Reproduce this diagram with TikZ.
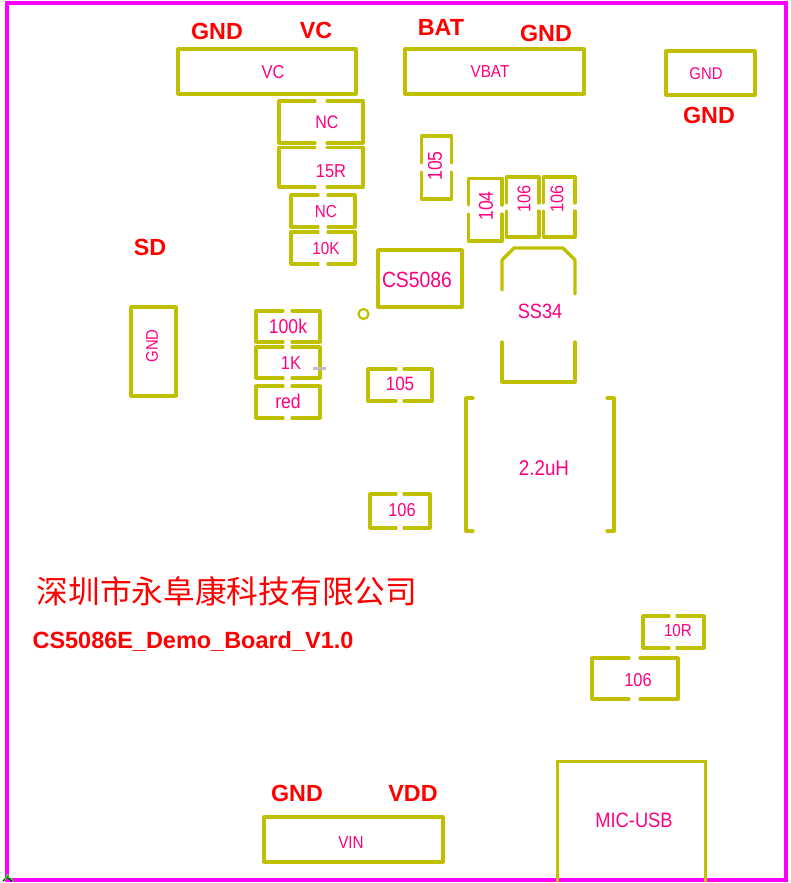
\documentclass[tikz,border=0pt]{standalone}
\usepackage{fontspec}
\setmainfont{Liberation Sans}
\newfontfamily\pcbfont[FakeStretch=0.88]{Liberation Sans}
\newfontfamily\cjkfont{Noto Sans CJK SC}
\definecolor{silk}{HTML}{C0C000}
\definecolor{pcbpink}{HTML}{FF0080}
\definecolor{board}{HTML}{FF00FF}
\newcommand{\pf}[1]{\pcbfont\fontsize{#1}{#1}\selectfont}
\tikzset{
  silkline/.style={draw=silk,line width=2.4pt,line cap=round,line join=round},
  thinsilk/.style={draw=silk,line width=1.8pt,line join=miter},
  edge/.style={draw=board,line width=3pt,line join=miter},
  pt/.style={text=pcbpink,inner sep=0pt,font=\pf{#1}},
  redlab/.style={text=red,inner sep=0pt,font=\bfseries\fontsize{17.5}{17.5}\selectfont},
}
% horizontal-gap pad pair: x1 y1 x2 y2 gapL gapR
\newcommand{\hpad}[6]{%
  \draw[silkline] (#5,#2) -- (#1,#2) -- (#1,#4) -- (#5,#4);
  \draw[silkline] (#6,#2) -- (#3,#2) -- (#3,#4) -- (#6,#4);}
% vertical-gap pad pair: x1 y1 x2 y2 gapT gapB
\newcommand{\vpad}[6]{%
  \draw[silkline] (#1,#5) -- (#1,#2) -- (#3,#2) -- (#3,#5);
  \draw[silkline] (#1,#6) -- (#1,#4) -- (#3,#4) -- (#3,#6);}
\begin{document}
\begin{tikzpicture}[x=0.75pt,y=-0.75pt]
\useasboundingbox (0,0) rectangle (791,883);
\fill[white] (0,0) rectangle (791,883);
% board outline
\draw[edge] (7,3) rectangle (786,880);
% origin marker
\draw[black,line width=0.9pt] (3,881) -- (7,877) -- (12,881);
\draw[green,line width=0.9pt] (5,880) -- (8,874) (8,877) -- (14,881);
% connectors
\draw[silkline] (178,49) rectangle (356,94);
\draw[silkline] (405,49) rectangle (584,94);
\draw[silkline] (666,51) rectangle (755,95);
\draw[silkline] (264,817) rectangle (443,862);
\draw[silkline] (131,307) rectangle (176,396);
% top resistors
\hpad{279}{101}{363}{143}{315}{327}
\hpad{279}{147.5}{363}{187}{315}{327}
\hpad{291}{195}{355}{227}{318}{328}
\hpad{291}{232}{355}{264}{318}{328}
% vertical caps
\vpad{421.5}{136}{451.5}{199}{163}{172}
\vpad{468.5}{178.5}{502}{241}{205}{214}
\vpad{506.5}{177}{539}{237}{203}{211}
\vpad{543.5}{177}{575}{237}{203}{211}
% CS5086
\draw[silkline] (378,250) rectangle (462,307);
\node[draw=silk,line width=1.6pt,circle,minimum size=7.5pt,inner sep=0pt] (pinone) at (363.5,314) {};
% SS34
\draw[silkline] (502,290) -- (502,260) -- (514,248) -- (563,248) -- (575,260) -- (575,294);
\draw[silkline] (502,342) -- (502,382) -- (575,382) -- (575,342);
% left resistors
\hpad{256}{311}{320}{342}{283}{292}
\hpad{256}{347}{320}{378}{283}{292}
\hpad{256}{386}{320}{418}{283}{292}
\draw[gray!50,line width=1.6pt] (313,368.5) -- (326,368.5);
\hpad{368}{369}{432}{401}{396}{404}
\hpad{370}{494}{430}{528}{396}{404}
% inductor
\draw[silkline] (473,398) -- (466,398) -- (466,531) -- (473,531);
\draw[silkline] (607,398) -- (614,398) -- (614,531) -- (607,531);
% lower right
\hpad{643}{616}{704}{648}{669}{677}
\hpad{592}{658}{678}{699}{629}{640}
% MIC-USB
\draw[thinsilk] (557.5,882) -- (557.5,761.5) -- (705.5,761.5) -- (705.5,882);
% component labels
\node[pt=14] (lvc) at (273,72) {VC};
\node[pt=13] (lvbat) at (490,72) {VBAT};
\node[pt=12.7] (lgnda) at (706,74) {GND};
\node[pt=13] (lvin) at (351,843) {VIN};
\node[pt=13.6] (lnca) at (327,122) {NC};
\node[pt=14] (lr) at (331,171) {15R};
\node[pt=13] (lncb) at (326,212) {NC};
\node[pt=13] (lk) at (326,249) {10K};
\node[pt=15,rotate=90] (lca) at (435,166) {105};
\node[pt=15,rotate=90] (lcb) at (486,206) {104};
\node[pt=13.8,rotate=90] (lcc) at (524,199) {106};
\node[pt=13.8,rotate=90] (lcd) at (557,199) {106};
\node[pt=16.5] (lic) at (417,280) {CS5086};
\node[pt=15.5] (lss) at (540,311) {SS34};
\node[pt=12.7,rotate=90] (lgndb) at (152,346) {GND};
\node[pt=15] (lhk) at (288,326) {100k};
\node[pt=14] (lok) at (291,363) {1K};
\node[pt=15] (lred) at (288,401) {red};
\node[pt=14.5] (lce) at (400,384) {105};
\node[pt=14] (lcf) at (402,510) {106};
\node[pt=16] (lind) at (544,468) {2.2uH};
\node[pt=13] (lten) at (678,631) {10R};
\node[pt=14] (lcg) at (638,680) {106};
\node[pt=15.6] (lusb) at (634,820) {MIC-USB};
% red annotations
\node[redlab] (ra) at (217,31) {GND};
\node[redlab] (rb) at (316,30) {VC};
\node[redlab] (rc) at (441,27) {BAT};
\node[redlab] (rd) at (546,33) {GND};
\node[redlab] (re) at (709,115) {GND};
\node[redlab] (rf) at (150,247) {SD};
\node[redlab] (rg) at (297,793) {GND};
\node[redlab] (rh) at (413,793) {VDD};
\node[text=red,inner sep=0pt,font=\cjkfont\fontsize{23.8}{24}\selectfont] (rcn) at (227,591) {深圳市永阜康科技有限公司};
\node[text=red,inner sep=0pt,font=\bfseries\fontsize{17.6}{18}\selectfont] (rboard) at (193,641) {CS5086E\_Demo\_Board\_V1.0};
\end{tikzpicture}
\end{document}
